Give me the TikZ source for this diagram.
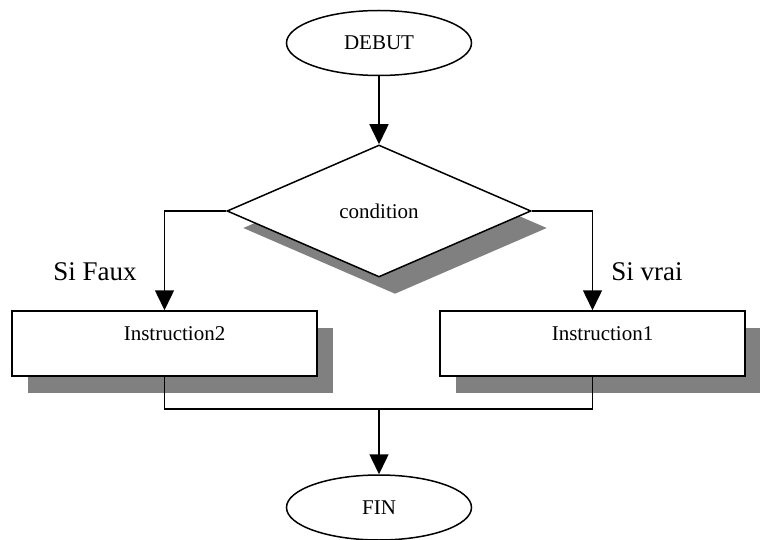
\documentclass[tikz,border=0pt]{standalone}
\usepackage{fontspec}
\setmainfont{Liberation Serif}
\usetikzlibrary{shapes.geometric,shadows,arrows.meta}
\definecolor{shadowgray}{HTML}{808080}
\begin{document}
\begin{tikzpicture}[x=1pt,y=-1pt,
  every node/.style={font=\fontsize{21}{24}\selectfont},
  line/.style={line width=1.5pt},
  arr/.style={line width=1.5pt,-{Triangle[width=19pt,length=20pt]}},
  shad/.style={general shadow={fill=shadowgray,shadow xshift=16pt,shadow yshift=-17pt}},
  term/.style={draw,line width=1.5pt,ellipse,fill=white,minimum width=185pt,minimum height=65pt,inner sep=0pt},
  decision/.style={draw,line width=1.5pt,diamond,fill=white,aspect=2.3,minimum width=304pt,minimum height=132pt,inner sep=0pt,shad},
  instr/.style={draw,line width=1.5pt,rectangle,fill=white,inner xsep=0pt,inner ysep=0pt,text width=305pt,align=center,text height=29pt,text depth=36pt,shad},
  lbl/.style={font=\fontsize{27}{30}\selectfont}
]
\useasboundingbox (0,0) rectangle (760,540);
\node[term] (debut) at (379,43) {DEBUT};
\node[decision] (cond) at (379,211) {condition};
\node[instr] (ins2) at (164.5,343.5) {\hspace*{20pt}Instruction2};
\node[instr] (ins1) at (592.5,343.5) {\hspace*{20pt}Instruction1};
\node[term] (fin) at (379,507.5) {FIN};
\coordinate (j) at (379,409);
\node[lbl] (faux) at (95,272) {Si Faux};
\node[lbl] (vrai) at (647,272) {Si vrai};
\draw[arr] (debut.south) -- (cond.north);
\draw[arr] (cond.west) -| (ins2.north);
\draw[arr] (cond.east) -| (ins1.north);
\draw[line] (ins2.south) |- (j);
\draw[line] (ins1.south) |- (j);
\draw[arr] (j) -- (fin.north);
\end{tikzpicture}
\end{document}
